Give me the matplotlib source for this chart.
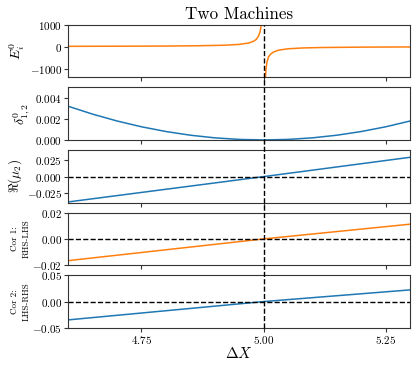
import matplotlib
matplotlib.use("Agg")
import matplotlib.pyplot as plt
import matplotlib.transforms as mtransforms
import numpy as np

plt.rcParams['font.family'] = 'serif'
plt.rcParams['font.serif'] = ['cmr10']
plt.rcParams['mathtext.fontset'] = 'cm'
plt.rcParams['axes.formatter.use_mathtext'] = True
plt.rcParams['axes.unicode_minus'] = True

# panel 1: E_i^0, two branches around the pole at 5.0
e_x_left = [4.60, 4.70, 4.80, 4.87, 4.92, 4.95, 4.97, 4.98, 4.985, 4.99, 4.993, 4.995, 4.996, 4.997]
e_y_left = [12, 17, 25, 40, 62, 100, 165, 250, 330, 500, 700, 1000, 1250, 1650]
e_x_right = [5.003, 5.004, 5.005, 5.007, 5.01, 5.015, 5.02, 5.03, 5.05, 5.08, 5.12, 5.2, 5.3]
e_y_right = [-1700, -1300, -1000, -700, -470, -330, -250, -165, -100, -62, -42, -25, -16]

# panel 2: delta^0_{1,2}
d_x = [4.60, 4.65, 4.70, 4.75, 4.80, 4.85, 4.90, 4.95, 5.00, 5.05, 5.10, 5.15, 5.20, 5.25, 5.30]
d_y = [0.0032, 0.00245, 0.0018, 0.00125, 0.0008, 0.00045, 0.0002, 0.00005, 0.0,
       0.00005, 0.0002, 0.00045, 0.0008, 0.00125, 0.0018]

# panels 3-5: straight lines
lin_x = [4.60, 5.00, 5.30]
mu_y = [-0.038, 0.0, 0.029]
cor1_y = [-0.0165, 0.0, 0.0112]
cor2_y = [-0.0348, 0.0, 0.0222]

x_crit = 5.0

fig, axes = plt.subplots(5, 1, sharex=True, figsize=(4.16, 3.68), dpi=100)
fig.subplots_adjust(left=0.164, right=0.986, top=0.933, bottom=0.109, hspace=0.19)

ax1, ax2, ax3, ax4, ax5 = axes
lw = 1.1

ax1.plot(e_x_left, e_y_left, color='tab:orange', lw=lw)
ax1.plot(e_x_right, e_y_right, color='tab:orange', lw=lw)
ax1.set_ylim(-1400, 1000)
ax1.set_yticks([-1000, 0, 1000])
ax1.set_ylabel(r'$E_i^0$', fontsize=10, labelpad=2)
ax1.set_title('Two Machines', fontsize=12.2, pad=4)

ax2.plot(d_x, d_y, color='tab:blue', lw=lw)
ax2.set_ylim(0, 0.005)
ax2.set_yticks([0, 0.002, 0.004])
ax2.set_ylabel(r'$\delta^0_{1,2}$', fontsize=10, labelpad=2)

ax3.plot(lin_x, mu_y, color='tab:blue', lw=lw)
ax3.set_ylim(-0.039, 0.04)
ax3.set_yticks([-0.025, 0, 0.025])
ax3.set_ylabel(r'$\Re(\mu_2)$', fontsize=9.5, labelpad=2)

ax4.plot(lin_x, cor1_y, color='tab:orange', lw=lw)
ax4.set_ylim(-0.02, 0.02)
ax4.set_yticks([-0.02, 0, 0.02])
ax4.set_ylabel('Cor 1:\nRHS-LHS', fontsize=6.5, labelpad=1, linespacing=1.6)

ax5.plot(lin_x, cor2_y, color='tab:blue', lw=lw)
ax5.set_ylim(-0.05, 0.05)
ax5.set_yticks([-0.05, 0, 0.05])
ax5.set_ylabel('Cor 2:\nLHS-RHS', fontsize=6.5, labelpad=1, linespacing=1.6)

for ax in (ax3, ax4, ax5):
    ax.axhline(0, color='black', ls='--', lw=1)

ax5.set_xlim(4.6, 5.3)
ax5.set_xticks([4.75, 5.0, 5.25])
ax5.set_xlabel(r'$\Delta X$', fontsize=11, labelpad=0)

for ax in axes:
    ax.tick_params(labelsize=8, length=2.6, width=0.8, pad=1.8, color='#333333')
    for s in ax.spines.values():
        s.set_color('#333333')
        s.set_linewidth(0.8)

# vertical dashed line running through all panels
trans = mtransforms.blended_transform_factory(ax5.transData, fig.transFigure)
fig.add_artist(plt.Line2D([x_crit, x_crit], [0.109, 0.933], transform=trans,
                          color='black', ls='--', lw=1))

fig.savefig('out.png', dpi=100)
